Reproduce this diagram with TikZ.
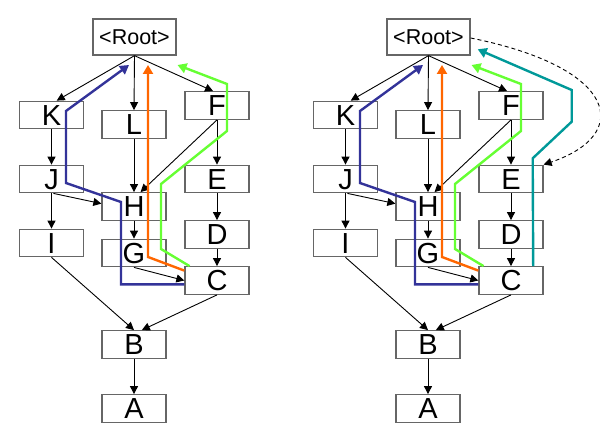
\documentclass[tikz,border=0pt]{standalone}
\usepackage{fontspec}
\setmainfont{Liberation Sans}
\usetikzlibrary{arrows.meta,calc}
\definecolor{pathblue}{HTML}{333399}
\definecolor{pathorange}{HTML}{FF6600}
\definecolor{pathgreen}{HTML}{66FF33}
\definecolor{pathteal}{HTML}{009999}
\definecolor{boxgray}{HTML}{666666}
\begin{document}
\begin{tikzpicture}[x=1pt,y=-1pt,
  box/.style={draw=boxgray,fill=white,line width=1.3pt,minimum width=64pt,minimum height=27.5pt,inner sep=0pt,
    font=\fontsize{29}{29}\selectfont,text height=20.8pt,text depth=0pt},
  rootbox/.style={box,minimum width=83pt,minimum height=36pt,font=\fontsize{21.5}{21.5}\selectfont,text height=15.4pt},
  edge/.style={line width=0.9pt,-{Triangle[length=8pt,width=8pt]}},
  route/.style={line width=2.4pt,-{Triangle[length=9pt,width=10pt]}},
  dashedge/.style={line width=0.9pt,dash pattern=on 4pt off 3pt,-{Triangle[length=8pt,width=8pt]}}
]
\useasboundingbox (0,0) rectangle (600,436);
\foreach \s/\d in {l/0,r/294}{
  \begin{scope}[xshift=\d pt]
    \node[rootbox] (\s Root) at (134.5,37) {<Root>};
    \node[box] (\s K) at (51.5,115) {K};
    \node[box] (\s L) at (134,124.5) {L};
    \node[box] (\s F) at (217,105.5) {F};
    \node[box] (\s J) at (51.5,179) {J};
    \node[box] (\s E) at (217,179) {E};
    \node[box] (\s H) at (134,206.5) {H};
    \node[box] (\s I) at (51.5,243) {I};
    \node[box] (\s D) at (217,234.5) {D};
    \node[box] (\s G) at (134,253) {G};
    \node[box] (\s C) at (217,280.5) {C};
    \node[box] (\s B) at (134,344.5) {B};
    \node[box] (\s A) at (134,408.5) {A};
    % black edges
    \draw[edge] (\s Root.south) -- ($(\s K.north west)!0.58!(\s K.north east)$);
    \draw[edge] (\s Root.south) -- (\s L.north);
    \draw[edge] (\s Root.south) -- ($(\s F.north west)!0.44!(\s F.north east)$);
    \draw[edge] (\s K.south) -- (\s J.north);
    \draw[edge] ($(\s J.south west)!0.53!(\s J.south east)$) -- ($(\s H.north west)!0.4!(\s H.south west)$);
    \draw[edge] (\s J.south) -- (\s I.north);
    \draw[edge] (\s L.south) -- (\s H.north);
    \draw[edge] (\s F.south) -- ($(\s H.north west)!0.6!(\s H.north east)$);
    \draw[edge] (\s F.south) -- (\s E.north);
    \draw[edge] (\s E.south) -- (\s D.north);
    \draw[edge] (\s H.south) -- (\s G.north);
    \draw[edge] (\s D.south) -- (\s C.north);
    \draw[edge] (\s G.south) -- (\s C.west);
    \draw[edge] (\s I.south) -- (\s B.north);
    \draw[edge] (\s C.south) -- ($(\s B.north west)!0.62!(\s B.north east)$);
    \draw[edge] (\s B.south) -- (\s A.north);
    % coloured routes
    \coordinate (\s bluetip) at (129,65);
    \coordinate (\s orangetip) at (148,65);
    \coordinate (\s greentip) at (177.5,65);
    \draw[route,pathblue] ($(\s C.west)+(0,3.8)$) -| (121,202) -- (66,183) -- (66,111) -- (\s bluetip);
    \draw[route,pathorange] ($(\s C.north west)+(0,4.5)$) -- (148,257) -- (\s orangetip);
    \draw[route,pathgreen] ($(\s C.north west)!0.08!(\s C.north east)$) -- (161,249) -- (161,184) -- (227,131) -- (227,84) -- (\s greentip);
  \end{scope}
}
\coordinate (tealtip) at (477.7,49.3);
\draw[route,pathteal] ($(rC.north west)!0.84!(rC.north east)$) -- (532.7,158.3) -- (571.7,121.7) -- (571.7,90) -- (tealtip);
\draw[dashedge] ($(rRoot.east)+(0,1)$) .. controls (620,68) and (632,135) .. (rE.north east);
\end{tikzpicture}
\end{document}
